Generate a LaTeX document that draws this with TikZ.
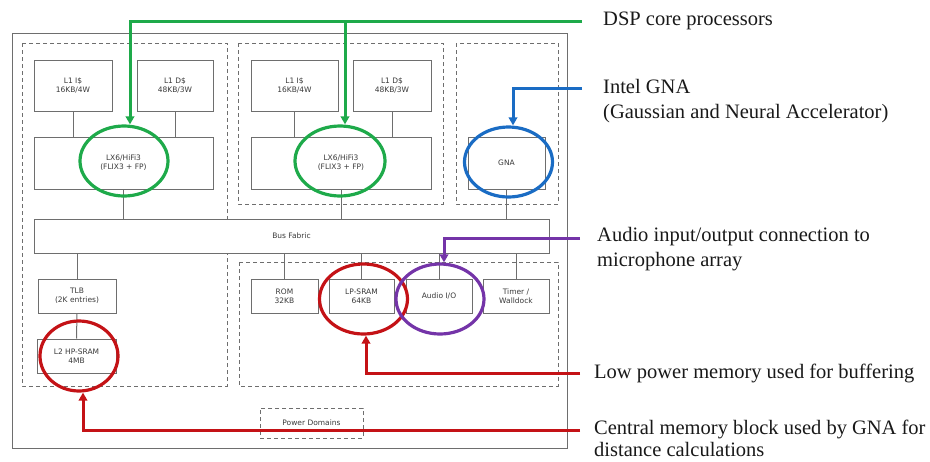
\documentclass[tikz,border=0pt]{standalone}
\usepackage{fontspec}
\setmainfont{Liberation Serif}
\newfontfamily\blockfont{DejaVu Sans}
\usetikzlibrary{arrows.meta,shapes.geometric}
\definecolor{linegray}{HTML}{6E6E6E}
\definecolor{textgray}{HTML}{3A3A3A}
\definecolor{dspgreen}{HTML}{1EAA4A}
\definecolor{gnablue}{HTML}{1A6CC4}
\definecolor{audiopurple}{HTML}{7434A8}
\definecolor{memred}{HTML}{C41216}

\begin{document}
\begin{tikzpicture}[x=1pt,y=-1pt,
  block/.style={draw=linegray, line width=1pt, fill=white, align=center,
    font=\blockfont\fontsize{7.5}{9}\selectfont, text=textgray, inner sep=0pt},
  group/.style={draw=linegray, line width=1pt, dash pattern=on 4pt off 3pt},
  wire/.style={draw=linegray, line width=1pt},
  ring/.style={ellipse, draw, line width=3.2pt, inner sep=0pt},
  leader/.style={line width=3pt, -{Triangle[length=8pt,width=8.5pt]}},
  note/.style={anchor=base west, align=left, inner sep=0pt,
    font=\fontsize{20.5}{25}\selectfont, text=black!90}
]
\useasboundingbox (0,0) rectangle (930,461);

% chip outline and dashed power/function groups
\draw[wire] (12,33) rectangle (567,448);
\draw[group] (22,43) rectangle (227,386);
\draw[group] (238,43) rectangle (443,204);
\draw[group] (456,43) rectangle (558,204);
\draw[group] (239,262) rectangle (558,386);

% blocks
\node[block, minimum width=78pt, minimum height=51pt] (i1) at (73,85.5) {L1 I\$\\16KB/4W};
\node[block, minimum width=76pt, minimum height=51pt] (d1) at (175,85.5) {L1 D\$\\48KB/3W};
\node[block, minimum width=179pt, minimum height=52pt] (c1) at (123.5,163) {LX6/HiFi3\\(FLIX3 + FP)};
\node[block, minimum width=87pt, minimum height=51pt] (i2) at (294.5,85.5) {L1 I\$\\16KB/4W};
\node[block, minimum width=78pt, minimum height=51pt] (d2) at (392,85.5) {L1 D\$\\48KB/3W};
\node[block, minimum width=180pt, minimum height=52pt] (c2) at (341,163) {LX6/HiFi3\\(FLIX3 + FP)};
\node[block, minimum width=77pt, minimum height=52pt] (gna) at (506.5,163) {GNA};
\node[block, minimum width=515pt, minimum height=34pt] (bus) at (291.5,236) {Bus Fabric};
\node[block, minimum width=78pt, minimum height=34pt] (tlb) at (77,296) {TLB\\(2K entries)};
\node[block, minimum width=79pt, minimum height=34pt] (l2) at (76.5,356) {L2 HP-SRAM\\4MB};
\node[block, minimum width=67pt, minimum height=34pt] (rom) at (284.5,296) {ROM\\32KB};
\node[block, minimum width=65pt, minimum height=34pt] (lps) at (361.5,296) {LP-SRAM\\64KB};
\node[block, minimum width=66pt, minimum height=34pt] (aio) at (439,296) {Audio I/O};
\node[block, minimum width=66pt, minimum height=34pt] (tmr) at (516,296) {Timer /\\Walldock};
\node[block, group, minimum width=103pt, minimum height=30pt] (pwr) at (311.5,423) {Power Domains};

% interconnect wires
\draw[wire] (i1.south) -- (i1.south |- c1.north);
\draw[wire] (d1.south) -- (d1.south |- c1.north);
\draw[wire] (i2.south) -- (i2.south |- c2.north);
\draw[wire] (d2.south) -- (d2.south |- c2.north);
\draw[wire] (c1.south) -- (c1.south |- bus.north);
\draw[wire] (c2.south) -- (c2.south |- bus.north);
\draw[wire] (gna.south) -- (gna.south |- bus.north);
\draw[wire] (tlb.north) -- (tlb.north |- bus.south);
\draw[wire] (l2.north) -- (tlb.south);
\draw[wire] (rom.north) -- (rom.north |- bus.south);
\draw[wire] (lps.north) -- (lps.north |- bus.south);
\draw[wire] (aio.north) -- (aio.north |- bus.south);
\draw[wire] (tmr.north) -- (tmr.north |- bus.south);

% highlight rings
\node[ring, draw=dspgreen, minimum width=88pt, minimum height=70pt] (e1) at (124,161) {};
\node[ring, draw=dspgreen, minimum width=90pt, minimum height=70pt] (e2) at (340,161) {};
\node[ring, draw=gnablue, minimum width=88pt, minimum height=70pt] (e3) at (508.5,162) {};
\node[ring, draw=memred, minimum width=78pt, minimum height=70pt] (e4) at (79,356) {};
\node[ring, draw=memred, minimum width=88pt, minimum height=70pt] (e5) at (363.5,299) {};
\node[ring, draw=audiopurple, minimum width=88pt, minimum height=70pt] (e6) at (440,299) {};

% annotations (anchored at the baseline of their last line)
\node[note] (tdsp) at (603,25) {DSP core processors};
\node[note] (tgna) at (603,118) {Intel GNA\\(Gaussian and Neural Accelerator)};
\node[note] (taud) at (597,266) {Audio input/output connection to\\microphone array};
\node[note] (tlow) at (594,378) {Low power memory used for buffering};
\node[note] (tcen) at (594,456) {Central memory block used by GNA for\\[-3pt]distance calculations};

\coordinate (gEnd) at (582,21);
\coordinate (bEnd) at (582,88);
\coordinate (pEnd) at (580,238);
\coordinate (lEnd) at (580,373);
\coordinate (cEnd) at (580,430);

% leader lines
\draw[leader, dspgreen] (gEnd) -- (130,21) -- ([xshift=6pt]e1.north);
\draw[leader, dspgreen] (345,21) -- ([xshift=5pt]e2.north);
\draw[leader, gnablue] (bEnd) -- (513,88) -- ([xshift=4.5pt]e3.north);
\draw[leader, audiopurple] (pEnd) -- (444,238) -- ([xshift=4pt]e6.north);
\draw[leader, memred] (lEnd) -- (366,373) -- ([xshift=2.5pt]e5.south);
\draw[leader, memred] (cEnd) -- (83,430) -- ([xshift=4pt]e4.south);
\end{tikzpicture}
\end{document}
